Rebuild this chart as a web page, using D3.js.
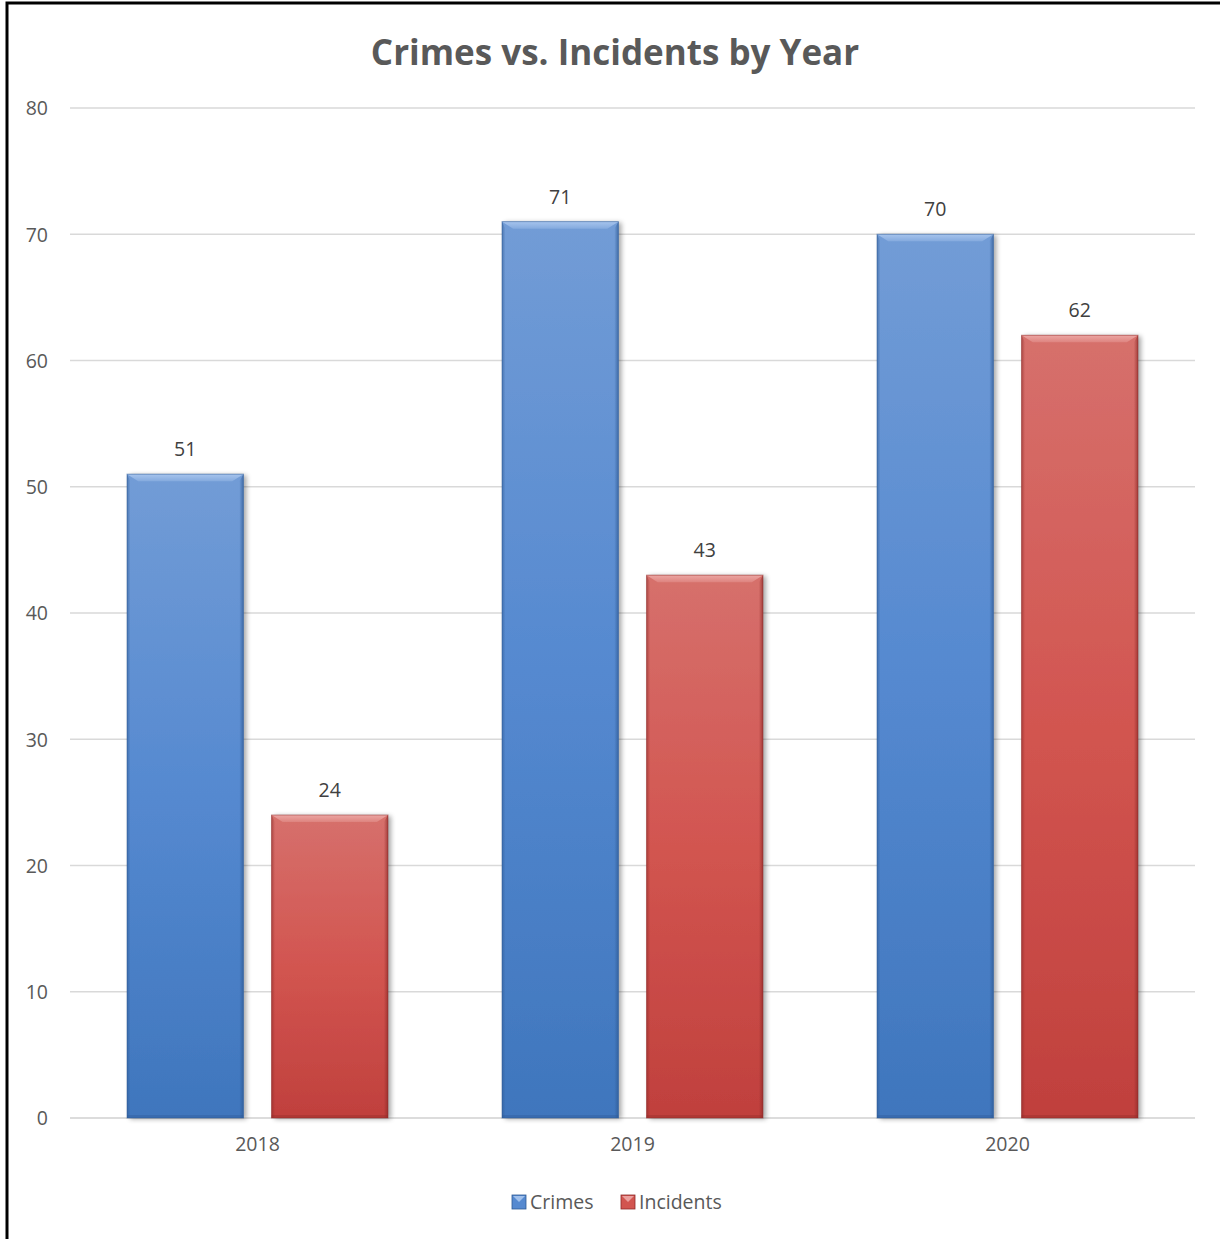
<!DOCTYPE html>
<html><head><meta charset="utf-8">
<script src="https://cdn.jsdelivr.net/npm/d3@7"></script>
<style>html,body{margin:0;padding:0;background:#fff;} svg{display:block;}</style>
</head><body>
<svg id="chart" width="1220" height="1239"></svg>
<script>
const categories = ["2018", "2019", "2020"];
const seriesNames = ["Crimes", "Incidents"];
const crimes = [51, 71, 70];
const incidents = [24, 43, 62];
const yTicks = [0, 10, 20, 30, 40, 50, 60, 70, 80];
const titleText = "Crimes vs. Incidents by Year";

(function() {
const svg = d3.select("#chart");
const W = 1220, H = 1239;
const font = "'Open Sans', 'Noto Sans', sans-serif";
const textColor = "#595959";
const fs = 19.5;

const pLeft = 70, pRight = 1195, pTop = 108, pBottom = 1118;
const x0 = d3.scaleBand().domain(categories).range([pLeft, pRight]).paddingInner(0).paddingOuter(0);
const x1 = d3.scaleBand().domain(seriesNames).range([57, x0.bandwidth() - 57]).paddingInner(28/144);
const y = d3.scaleLinear().domain([0, 80]).range([pBottom, pTop]);

const colors = {
  Crimes: {top: "#729cd6", mid: "#5589d0", bot: "#3f76bd", light: "#a9c6ee", dark: "#2e5a94"},
  Incidents: {top: "#d6706c", mid: "#d25550", bot: "#c0403d", light: "#eda9a6", dark: "#8e2a28"}
};

const defs = svg.append("defs");
seriesNames.forEach(s => {
  const c = colors[s];
  const g = defs.append("linearGradient").attr("id", "grad-" + s).attr("x1", 0).attr("y1", 0).attr("x2", 0).attr("y2", 1);
  g.append("stop").attr("offset", "0%").attr("stop-color", c.top);
  g.append("stop").attr("offset", "50%").attr("stop-color", c.mid);
  g.append("stop").attr("offset", "100%").attr("stop-color", c.bot);
  const gl = defs.append("linearGradient").attr("id", "side-" + s).attr("x1", 0).attr("y1", 0).attr("x2", 1).attr("y2", 0);
  gl.append("stop").attr("offset", "0%").attr("stop-color", c.dark).attr("stop-opacity", 0.55);
  gl.append("stop").attr("offset", "100%").attr("stop-color", c.dark).attr("stop-opacity", 0);
  const gr = defs.append("linearGradient").attr("id", "sider-" + s).attr("x1", 1).attr("y1", 0).attr("x2", 0).attr("y2", 0);
  gr.append("stop").attr("offset", "0%").attr("stop-color", c.dark).attr("stop-opacity", 0.7);
  gr.append("stop").attr("offset", "100%").attr("stop-color", c.dark).attr("stop-opacity", 0);
  const gt = defs.append("linearGradient").attr("id", "topb-" + s).attr("x1", 0).attr("y1", 0).attr("x2", 0).attr("y2", 1);
  gt.append("stop").attr("offset", "0%").attr("stop-color", c.light).attr("stop-opacity", 0.95);
  gt.append("stop").attr("offset", "100%").attr("stop-color", c.light).attr("stop-opacity", 0.35);
});
const f = defs.append("filter").attr("id", "shadow").attr("x", "-10%").attr("y", "-10%").attr("width", "130%").attr("height", "130%");
f.append("feGaussianBlur").attr("in", "SourceAlpha").attr("stdDeviation", 2.5);
f.append("feOffset").attr("dx", 3).attr("dy", 1).attr("result", "ob");
f.append("feComponentTransfer").append("feFuncA").attr("type", "linear").attr("slope", 0.35);
const m = f.append("feMerge"); m.append("feMergeNode"); m.append("feMergeNode").attr("in", "SourceGraphic");

svg.append("rect").attr("x", 0).attr("y", 0).attr("width", W).attr("height", H).attr("fill", "#fff");
svg.append("path").attr("d", `M7,${H+5} L7,3 L${W+5},3`).attr("fill", "none").attr("stroke", "#000").attr("stroke-width", 3);

svg.append("text").attr("x", 615).attr("y", 65).attr("text-anchor", "middle")
  .attr("font-family", font).attr("font-weight", "bold").attr("font-size", 35).attr("fill", textColor).text(titleText);

svg.append("g").selectAll("line").data(yTicks).join("line")
  .attr("x1", pLeft).attr("x2", pRight).attr("y1", d => y(d)).attr("y2", d => y(d))
  .attr("stroke", d => d === 0 ? "#d0d0d0" : "#d9d9d9").attr("stroke-width", 1.5);

const yAxis = d3.axisLeft(y).tickValues(yTicks).tickSize(0).tickPadding(0);
const ya = svg.append("g").attr("transform", `translate(48,0)`).call(yAxis);
ya.select(".domain").remove();
ya.selectAll("text").attr("font-family", font).attr("font-size", fs).attr("fill", textColor).attr("dy", "0.35em");

const xAxis = d3.axisBottom(x0).tickSize(0).tickPadding(0);
const xa = svg.append("g").attr("transform", `translate(0,${pBottom + 19})`).call(xAxis);
xa.select(".domain").remove();
xa.selectAll("text").attr("font-family", font).attr("font-size", fs).attr("fill", textColor).attr("dy", "0.71em");

const data = [];
categories.forEach((c, i) => {
  data.push({cat: c, series: "Crimes", value: crimes[i]});
  data.push({cat: c, series: "Incidents", value: incidents[i]});
});

const bars = svg.append("g").selectAll("g.bar").data(data).join("g").attr("class", "bar");
bars.each(function(d) {
  const g = d3.select(this);
  const bx = x0(d.cat) + x1(d.series), bw = x1.bandwidth();
  const by = y(d.value), bh = y(0) - y(d.value);
  const b = 7;
  g.append("rect").attr("x", bx).attr("y", by).attr("width", bw).attr("height", bh)
    .attr("fill", `url(#grad-${d.series})`).attr("filter", "url(#shadow)");
  g.append("path").attr("d", `M${bx},${by} L${bx+b*0.5},${by+b} L${bx+b*0.5},${by+bh} L${bx},${by+bh} Z`).attr("fill", `url(#side-${d.series})`);
  g.append("path").attr("d", `M${bx+bw},${by} L${bx+bw-b*0.6},${by+b} L${bx+bw-b*0.6},${by+bh} L${bx+bw},${by+bh} Z`).attr("fill", `url(#sider-${d.series})`);
  g.append("path").attr("d", `M${bx},${by} L${bx+bw},${by} L${bx+bw-b*1.6},${by+b} L${bx+b*1.6},${by+b} Z`).attr("fill", `url(#topb-${d.series})`);
  g.append("rect").attr("x", bx).attr("y", by+bh-3).attr("width", bw).attr("height", 3).attr("fill", colors[d.series].dark).attr("opacity", 0.35);
  g.append("rect").attr("x", bx).attr("y", by).attr("width", bw).attr("height", bh)
    .attr("fill", "none").attr("stroke", colors[d.series].dark).attr("stroke-opacity", 0.5).attr("stroke-width", 1);
});

svg.append("g").selectAll("text").data(data).join("text")
  .attr("x", d => x0(d.cat) + x1(d.series) + x1.bandwidth()/2)
  .attr("y", d => y(d.value) - 18)
  .attr("text-anchor", "middle").attr("font-family", font).attr("font-size", fs).attr("fill", "#404040")
  .text(d => d.value);

const legend = svg.append("g").attr("transform", "translate(0,1202)");
const legItems = [{name: "Crimes", x: 512}, {name: "Incidents", x: 621}];
legItems.forEach(it => {
  const c = colors[it.name];
  legend.append("rect").attr("x", it.x).attr("y", -7).attr("width", 14).attr("height", 14).attr("fill", c.mid).attr("stroke", c.dark).attr("stroke-width", 0.8);
  legend.append("path").attr("d", `M${it.x+1},${-6} L${it.x+13},${-6} L${it.x+7},${0} Z`).attr("fill", c.light).attr("opacity", 0.9);
  legend.append("text").attr("x", it.x + 18).attr("y", 0).attr("dy", "0.35em")
    .attr("font-family", font).attr("font-size", fs).attr("fill", textColor).text(it.name);
});
})();
</script>
</body></html>
